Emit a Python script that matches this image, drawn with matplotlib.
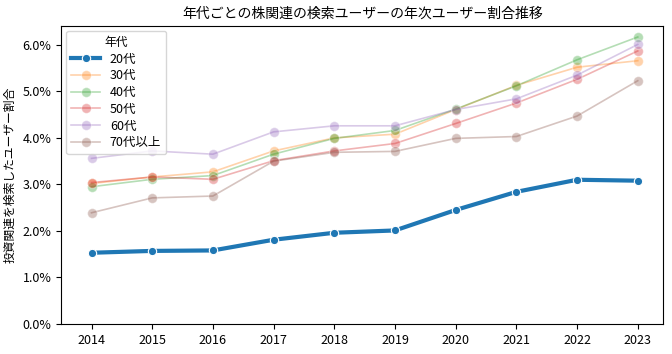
import numpy as np
import matplotlib
matplotlib.use('Agg')
import matplotlib.pyplot as plt
from matplotlib.ticker import PercentFormatter

plt.rcParams['font.family'] = ['Noto Sans CJK JP', 'DejaVu Sans']

# Data (share of users, %)
years = [2014, 2015, 2016, 2017, 2018, 2019, 2020, 2021, 2022, 2023]
age_groups = ['20代', '30代', '40代', '50代', '60代', '70代以上']
share_20s = [1.53, 1.57, 1.58, 1.81, 1.96, 2.01, 2.45, 2.84, 3.10, 3.08]
share_30s = [3.02, 3.16, 3.27, 3.72, 4.00, 4.08, 4.61, 5.13, 5.52, 5.66]
share_40s = [2.95, 3.11, 3.19, 3.65, 3.99, 4.16, 4.62, 5.12, 5.68, 6.17]
share_50s = [3.04, 3.16, 3.11, 3.51, 3.72, 3.88, 4.31, 4.75, 5.26, 5.87]
share_60s = [3.56, 3.72, 3.65, 4.13, 4.26, 4.26, 4.61, 4.84, 5.35, 6.01]
share_70s = [2.39, 2.71, 2.75, 3.50, 3.69, 3.71, 3.99, 4.03, 4.47, 5.23]

series = [share_20s, share_30s, share_40s, share_50s, share_60s, share_70s]
colors = ['#1f77b4', '#ff7f0e', '#2ca02c', '#d62728', '#9467bd', '#8c564b']

fig = plt.figure(figsize=(6.72, 3.54), dpi=100)
ax = fig.add_axes([0.091, 0.085, 0.896, 0.842])

for i, (label, vals) in enumerate(zip(age_groups, series)):
    if i == 0:
        ax.plot(years, vals, color=colors[i], linewidth=3, marker='o',
                markersize=6, markeredgecolor='white', markeredgewidth=0.8,
                label=label, zorder=5)
    else:
        ax.plot(years, vals, color=colors[i], linewidth=1.2, marker='o',
                markersize=7, markeredgecolor='white', markeredgewidth=0.8,
                alpha=0.35, label=label)

ax.set_xticks(years)
ax.set_ylim(0, 6.41)
ax.set_xlim(2013.5, 2023.42)
ax.yaxis.set_major_formatter(PercentFormatter(decimals=1))
ax.tick_params(labelsize=9)
ax.set_ylabel('投資関連を検索したユーザー割合', fontsize=8.5)
ax.set_title('年代ごとの株関連の検索ユーザーの年次ユーザー割合推移', fontsize=10)
ax.legend(title='年代', loc='upper left', fontsize=9, title_fontsize=8.5,
          handlelength=2.3, labelspacing=0.3, borderaxespad=0.4)

fig.savefig('out.png', dpi=100)
